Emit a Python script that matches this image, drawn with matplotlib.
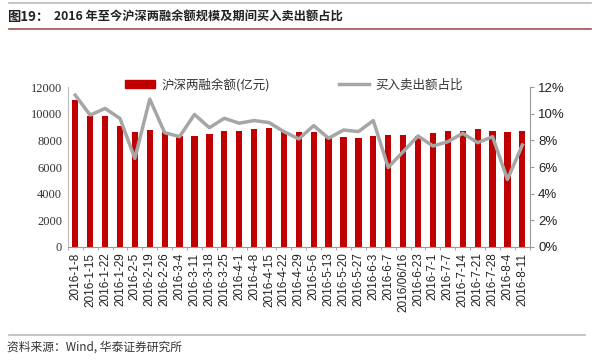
import matplotlib
matplotlib.use("Agg")
import matplotlib.pyplot as plt
from matplotlib.lines import Line2D
from matplotlib.ticker import FuncFormatter

plt.rcParams['font.family'] = ['Noto Sans CJK SC', 'DejaVu Sans']

dates = ['2016-1-8', '2016-1-15', '2016-1-22', '2016-1-29', '2016-2-5', '2016-2-19',
         '2016-2-26', '2016-3-4', '2016-3-11', '2016-3-18', '2016-3-25', '2016-4-1',
         '2016-4-8', '2016-4-15', '2016-4-22', '2016-4-29', '2016-5-6', '2016-5-13',
         '2016-5-20', '2016-5-27', '2016-6-3', '2016-6-7', '2016/06/16', '2016-6-23',
         '2016-7-1', '2016-7-7', '2016-7-14', '2016-7-21', '2016-7-28', '2016-8-4',
         '2016-8-11']
balance = [11000, 9800, 9800, 9050, 8650, 8800, 8600, 8300, 8320, 8450, 8730, 8720,
           8840, 8910, 8660, 8600, 8600, 8160, 8230, 8190, 8330, 8380, 8380, 8300,
           8530, 8680, 8720, 8860, 8680, 8630, 8680]
ratio = [11.4, 9.9, 10.4, 9.65, 6.65, 11.1, 8.58, 8.28, 9.95, 8.95, 9.66, 9.29,
         9.49, 9.34, 8.66, 8.11, 9.11, 8.16, 8.78, 8.66, 9.49, 5.97, 7.15, 8.33,
         7.58, 7.9, 8.53, 7.83, 8.28, 5.07, 7.65]

bar_color = '#C00000'
line_color = '#A6A6A6'
x = list(range(len(dates)))

fig = plt.figure(figsize=(6, 3.6), dpi=100)
ax = fig.add_axes([0.113, 0.314, 0.77, 0.444])
ax.bar(x, balance, width=0.42, color=bar_color, zorder=2)
ax.set_ylim(0, 12000)
ax.set_yticks(range(0, 12001, 2000))
ax.set_xlim(-0.5, len(dates) - 0.5)
ax.set_xticks(x)
ax.set_xticklabels(dates, rotation=90, fontsize=8.5, family='Liberation Sans', color='#222222')
ax.set_xticks([i - 0.5 for i in range(len(dates) + 1)], minor=True)
ax.tick_params(axis='x', which='major', length=0, pad=4)
ax.tick_params(axis='x', which='minor', length=2, color='#999999')
ax.tick_params(axis='y', length=0, labelsize=9, pad=4)
for lab in ax.get_yticklabels():
    lab.set_family('Liberation Serif')
    lab.set_color('#333333')
for side in ['top', 'right']:
    ax.spines[side].set_visible(False)
ax.spines['left'].set_color('#BBBBBB')
ax.spines['bottom'].set_color('#999999')

ax2 = ax.twinx()
ax2.plot(x, ratio, color=line_color, linewidth=2.5, zorder=3)
ax2.set_ylim(0, 12)
ax2.set_yticks(range(0, 13, 2))
ax2.yaxis.set_major_formatter(FuncFormatter(lambda v, p: f'{int(v)}%'))
ax2.tick_params(axis='y', length=3, color='#999999', labelsize=9.5, pad=3)
for lab in ax2.get_yticklabels():
    lab.set_family('Liberation Sans')
    lab.set_color('#222222')
for side in ['top', 'left', 'bottom']:
    ax2.spines[side].set_visible(False)
ax2.spines['right'].set_color('#999999')

handles = [plt.Rectangle((0, 0), 1, 1, color=bar_color),
           Line2D([0], [0], color=line_color, linewidth=2.5)]
labels = ['沪深两融余额(亿元)', '买入卖出额占比']
leg = fig.legend(handles, labels, loc='center', bbox_to_anchor=(0.49, 0.765), ncol=2,
                 frameon=False, fontsize=9, columnspacing=5.5, handlelength=2.4,
                 handleheight=0.6, handletextpad=0.5)
for t in leg.get_texts():
    t.set_color('#333333')

# title block
fig.add_artist(Line2D([0.015, 0.985], [0.992, 0.992], color='#BBBBBB', linewidth=1.2))
fig.add_artist(Line2D([0.015, 0.985], [0.92, 0.92], color='#A05050', linewidth=1.2))
fig.text(0.012, 0.953, '图19：', fontsize=9.5, fontweight='bold', va='center', color='#222222')
fig.text(0.09, 0.953, '2016 年至今沪深两融余额规模及期间买入卖出额占比', fontsize=8.8,
         fontweight='bold', va='center', color='#222222')

# source
fig.add_artist(Line2D([0.015, 0.975], [0.07, 0.07], color='#BBBBBB', linewidth=1.2))
fig.text(0.012, 0.035, '资料来源：Wind, 华泰证券研究所', fontsize=8.5, style='italic',
         va='center', color='#333333')

fig.savefig('out.png', dpi=100)
